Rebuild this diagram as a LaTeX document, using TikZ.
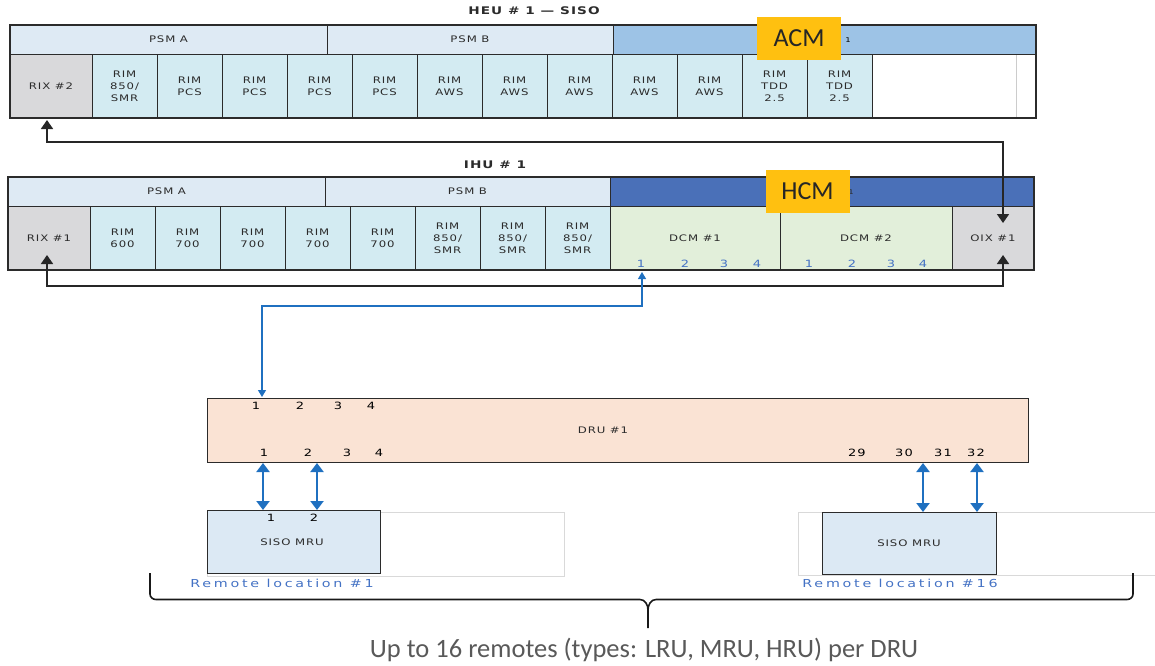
\documentclass[tikz,border=0pt]{standalone}
\usepackage{fontspec}
\usetikzlibrary{arrows.meta}
\newfontfamily\boxfont[FakeStretch=1.3,LetterSpace=10]{DejaVu Sans}
\newfontfamily\placefont[FakeStretch=1.3,LetterSpace=25]{DejaVu Sans}
\newfontfamily\calfont{Carlito}
\definecolor{psmfill}{HTML}{DEEAF4}
\definecolor{rimfill}{HTML}{D3EBF2}
\definecolor{rixfill}{HTML}{D9D9DB}
\definecolor{acmfill}{HTML}{9DC3E6}
\definecolor{hcmfill}{HTML}{4A70B8}
\definecolor{dcmfill}{HTML}{E2EFDA}
\definecolor{drufill}{HTML}{FAE3D4}
\definecolor{mrufill}{HTML}{DCE9F4}
\definecolor{tagfill}{HTML}{FFC010}
\definecolor{linkblue}{HTML}{1F70C0}
\definecolor{portblue}{HTML}{4472C4}
\definecolor{textgray}{HTML}{2B2B2B}
\definecolor{capgray}{HTML}{595959}
\tikzset{
  card/.style={draw=textgray, line width=0.9pt, inner sep=0pt, align=center,
    text=textgray, font={\boxfont\fontsize{9}{12}\selectfont}},
  band/.style={card, minimum height=29pt},
  slot/.style={card, minimum height=64pt},
  rim/.style={slot, fill=rimfill, minimum width=65pt},
  port/.style={inner sep=0pt, text=black, font={\boxfont\fontsize{10}{11}\selectfont}},
  tag/.style={fill=tagfill, inner sep=0pt, minimum width=84pt, minimum height=43pt,
    font={\calfont\fontsize{26}{28}\selectfont}, text=black!85},
  frame/.style={draw=textgray, line width=1.6pt},
  loop/.style={draw=black!85, line width=1.7pt, {Triangle[length=9pt,width=12pt]}-{Triangle[length=9pt,width=12pt]}},
  thin link/.style={draw=linkblue, line width=1.1pt, {Triangle[length=7pt,width=8pt]}-{Triangle[length=7pt,width=8pt]}},
  thick link/.style={draw=linkblue, line width=2.5pt, {Triangle[length=9pt,width=13pt]}-{Triangle[length=9pt,width=13pt]}},
  remote/.style={text=portblue, inner sep=0pt, font={\placefont\fontsize{11}{12}\selectfont}},
  title/.style={text=textgray, font={\boxfont\bfseries\fontsize{10.5}{12}\selectfont}}
}
\begin{document}
\begin{tikzpicture}[x=1pt, y=-1pt]
  \useasboundingbox (0,0) rectangle (1155,665);

  % HEU
  \node[title] (heuTitle) at (534,11) {HEU \# 1 — SISO};
  \node[band, fill=psmfill, minimum width=317pt] (heuPsmA) at (168.5,39.5) {PSM A};
  \node[band, fill=psmfill, minimum width=286pt] (heuPsmB) at (470,39.5) {PSM B};
  \node[band, fill=acmfill, minimum width=423pt] (heuAcm) at (824.5,39.5) {};
  \node[port, font={\boxfont\fontsize{6.5}{7}\selectfont}] (heuAcmNo) at (848,40) {1};
  \node[slot, fill=rixfill, minimum width=82pt] (rixTwo) at (51,86) {RIX \#2};
  \node[rim] (heuRimA) at (124.5,86) {RIM\\850/\\SMR};
  \node[rim] (heuRimB) at (189.5,86) {RIM\\PCS};
  \node[rim] (heuRimC) at (254.5,86) {RIM\\PCS};
  \node[rim] (heuRimD) at (319.5,86) {RIM\\PCS};
  \node[rim] (heuRimE) at (384.5,86) {RIM\\PCS};
  \node[rim] (heuRimF) at (449.5,86) {RIM\\AWS};
  \node[rim] (heuRimG) at (514.5,86) {RIM\\AWS};
  \node[rim] (heuRimH) at (579.5,86) {RIM\\AWS};
  \node[rim] (heuRimI) at (644.5,86) {RIM\\AWS};
  \node[rim] (heuRimJ) at (709.5,86) {RIM\\AWS};
  \node[rim] (heuRimK) at (774.5,86) {RIM\\TDD\\2.5};
  \node[rim] (heuRimL) at (839.5,86) {RIM\\TDD\\2.5};
  \draw[black!20, line width=1pt] (1016,55) -- (1016,117);
  \draw[frame] (10,25) rectangle (1036,118);
  \node[tag] (acmTag) at (799,38.5) {ACM};

  % IHU
  \node[title] (ihuTitle) at (495,165) {IHU \# 1};
  \node[band, fill=psmfill, minimum width=317pt] (ihuPsmA) at (166.5,191.5) {PSM A};
  \node[band, fill=psmfill, minimum width=285pt] (ihuPsmB) at (467.5,191.5) {PSM B};
  \node[band, fill=hcmfill, minimum width=424pt] (ihuHcm) at (822,191.5) {};
  \node[port, font={\boxfont\fontsize{6.5}{7}\selectfont}, text=textgray] (ihuHcmNo) at (851,192) {1};
  \node[slot, fill=rixfill, minimum width=82pt] (rixOne) at (49,238) {RIX \#1};
  \node[rim] (ihuRimA) at (122.5,238) {RIM\\600};
  \node[rim] (ihuRimB) at (187.5,238) {RIM\\700};
  \node[rim] (ihuRimC) at (252.5,238) {RIM\\700};
  \node[rim] (ihuRimD) at (317.5,238) {RIM\\700};
  \node[rim] (ihuRimE) at (382.5,238) {RIM\\700};
  \node[rim] (ihuRimF) at (447.5,238) {RIM\\850/\\SMR};
  \node[rim] (ihuRimG) at (512.5,238) {RIM\\850/\\SMR};
  \node[rim] (ihuRimH) at (577.5,238) {RIM\\850/\\SMR};
  \node[slot, fill=dcmfill, minimum width=170pt] (dcmOne) at (695,238) {DCM \#1};
  \node[slot, fill=dcmfill, minimum width=172pt] (dcmTwo) at (866,238) {DCM \#2};
  \node[slot, fill=rixfill, minimum width=82pt] (oixOne) at (993,238) {OIX \#1};
  \node[port, text=portblue] (dcmOneA) at (641,264) {1};
  \node[port, text=portblue] (dcmOneB) at (685,264) {2};
  \node[port, text=portblue] (dcmOneC) at (724,264) {3};
  \node[port, text=portblue] (dcmOneD) at (757,264) {4};
  \node[port, text=portblue] (dcmTwoA) at (809,264) {1};
  \node[port, text=portblue] (dcmTwoB) at (852,264) {2};
  \node[port, text=portblue] (dcmTwoC) at (891,264) {3};
  \node[port, text=portblue] (dcmTwoD) at (923,264) {4};
  \draw[frame] (8,177) rectangle (1034,270);
  \node[tag] (hcmTag) at (807.5,191.5) {HCM};

  % links between the shelves
  \coordinate (rixTwoIn) at (47,120);
  \coordinate (oixTop) at (1003,223);
  \coordinate (rixOneIn) at (47,255);
  \coordinate (oixBottom) at (1003,255);
  \draw[loop] (rixTwoIn) -- (47,142) -| (oixTop);
  \draw[loop] (rixOneIn) -- (47,286) -| (oixBottom);

  % DRU
  \node[card, fill=drufill, minimum width=821pt, minimum height=64pt] (dru) at (617.5,430) {};
  \node[port, text=textgray, font={\boxfont\fontsize{9}{10}\selectfont}] (druLabel) at (603,430) {DRU \#1};
  \node[port] (druInA) at (256,406) {1};
  \node[port] (druInB) at (300,406) {2};
  \node[port] (druInC) at (338,406) {3};
  \node[port] (druInD) at (371,406) {4};
  \node[port] (druOutA) at (264,453) {1};
  \node[port] (druOutB) at (308,453) {2};
  \node[port] (druOutC) at (347,453) {3};
  \node[port] (druOutD) at (379,453) {4};
  \node[port] (druOutW) at (857,453) {29};
  \node[port] (druOutX) at (904,453) {30};
  \node[port] (druOutY) at (943,453) {31};
  \node[port] (druOutZ) at (976,453) {32};
  \coordinate (dcmPort) at (642,272);
  \coordinate (druPort) at (262,397);
  \draw[thin link] (dcmPort) -- (642,306) -| (druPort);

  % remotes
  \draw[black!15, line width=0.8pt] (207,512) rectangle (564,576);
  \draw[black!15, line width=0.8pt] (1155,512) -| (798,575) -- (1155,575);
  \node[card, fill=mrufill, minimum width=173pt, minimum height=63pt] (mruOne) at (293.5,541.5) {};
  \node[port, text=textgray, font={\boxfont\fontsize{9}{10}\selectfont}] (mruOneLabel) at (292,542) {SISO MRU};
  \node[port] (mruOneA) at (271,518) {1};
  \node[port] (mruOneB) at (314,518) {2};
  \node[card, fill=mrufill, minimum width=174pt, minimum height=62pt] (mruTwo) at (909,543) {SISO MRU};
  \draw[thick link] (263,463) -- (263,510);
  \draw[thick link] (317,463) -- (317,510);
  \draw[thick link] (923,463) -- (923,512);
  \draw[thick link] (977,463) -- (977,512);
  \node[remote] (remoteOne) at (282,583) {Remote location \#1};
  \node[remote] (remoteTwo) at (900,583) {Remote location \#16};

  % brace
  \draw[black!90, line width=1.6pt] (150,573) -- (150,594) to[out=-90,in=180] (156,599.5) -- (640,599.5)
    to[out=0,in=90] (648,610) -- (648,628);
  \draw[black!90, line width=1.6pt] (648,610) to[out=90,in=180] (656,599.5) -- (1127,599.5)
    to[out=0,in=-90] (1133,594) -- (1133,573);
  \node[text=capgray, font={\calfont\fontsize{26.5}{28}\selectfont}] (caption) at (644,650) {Up to 16 remotes (types: LRU, MRU, HRU) per DRU};
\end{tikzpicture}
\end{document}
